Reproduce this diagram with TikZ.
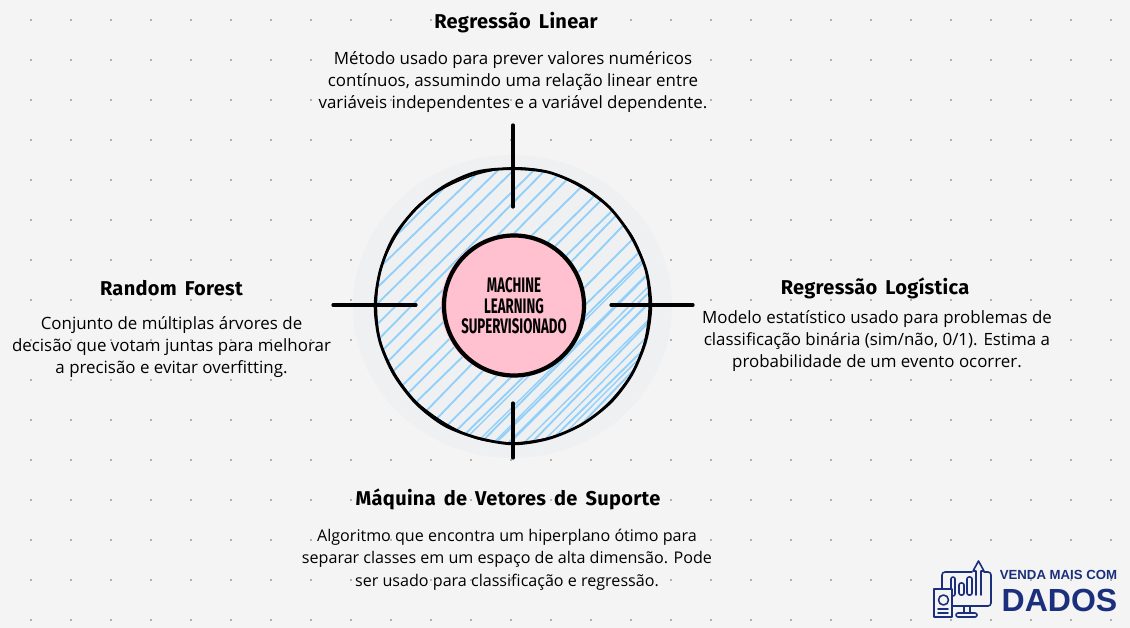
\documentclass[tikz,border=0pt]{standalone}
\usepackage{fontspec}
\usetikzlibrary{calc}
\setmainfont{Lato}
\newfontfamily\titlefont[LetterSpace=1.5,WordSpace=1.6]{Fira Sans}
\newfontfamily\bodyfont{Open Sans}
\newfontfamily\hubfont[FakeStretch=0.63]{Fira Sans}
\newfontfamily\logofont{Liberation Sans}
\definecolor{paper}{HTML}{F4F4F4}
\definecolor{gridgray}{HTML}{707070}
\definecolor{halo}{HTML}{EEF0F2}
\definecolor{hatch}{HTML}{90CFFA}
\definecolor{hubpink}{HTML}{FFC0D0}
\definecolor{navy}{HTML}{1C2F7C}
\tikzset{
	sketch/.style={draw=black, line width=2.8pt, line cap=round, line join=round},
	spoke/.style={draw=black, line width=3.2pt, line cap=round},
	heading/.style={font=\titlefont\bfseries\fontsize{20}{22}\selectfont, text=black, inner sep=0pt},
	blurb/.style={font=\bodyfont\fontsize{16.9}{22}\selectfont, text=black, align=center, inner sep=0pt},
	logoline/.style={draw=navy, line width=1.6pt, line join=round, line cap=round},
}
\begin{document}
\begin{tikzpicture}[x=1pt,y=-1pt]

	\pgfmathsetseed{7}
	\useasboundingbox (0,0) rectangle (1130,628);
	\fill[paper] (0,0) rectangle (1130,628);

	% dot grid
	\foreach \i in {0,...,27}
		\foreach \j in {0,...,15}
			\fill[gridgray] (31+40*\i,20+40*\j) circle (0.9);

	\coordinate (C) at (513,305.5);

	% rings
	\fill[halo] (512.5,306.5) ellipse (159.5 and 151.5);
	\begin{scope}
		\clip (C) circle (137);
		\foreach \k in {-22,...,22} {
			\pgfmathsetmacro{\ja}{\k*8.5+rand*3.5}
			\pgfmathsetmacro{\jb}{\k*8.5+rand*3.5}
			\draw[hatch, line width=1.8pt] ($(C)+(-160+\ja,160+\ja)$) -- ($(C)+(160+\jb,-160+\jb)$);
		}
		% denser towards the lower right
		\foreach \k in {6,...,18} {
			\pgfmathsetmacro{\ja}{\k*7.5+rand*3}
			\pgfmathsetmacro{\jb}{\k*7.5+rand*3}
			\draw[hatch, line width=1.3pt] ($(C)+(-160+\ja,160+\ja)$) -- ($(C)+(160+\jb,-160+\jb)$);
		}
	\end{scope}
	\draw[sketch] plot[smooth cycle, samples=24, domain=0:345] ({513+(137.5+rand*1)*cos(\x)},{305.5+(137.5+rand*1)*sin(\x)});
	\draw[sketch, line width=1.5pt] plot[smooth cycle, samples=24, domain=0:345] ({513+(137+rand*1.2)*cos(\x)},{305.5+(137+rand*1.2)*sin(\x)});
	\fill[hubpink] (513,305.5) circle (72);
	\draw[sketch, line width=4.2pt] (514,305.5) circle (70);

	% spokes
	\coordinate (Na) at (513,125);
	\coordinate (Nb) at (513,207);
	\coordinate (Sa) at (513,403);
	\coordinate (Sb) at (513,458);
	\coordinate (Wa) at (333,305);
	\coordinate (Wb) at (416,305);
	\coordinate (Ea) at (611,305);
	\coordinate (Eb) at (693,305);
	\draw[spoke] (Na) -- (Nb);
	\draw[spoke] (Sa) -- (Sb);
	\draw[spoke] (Wa) -- (Wb);
	\draw[spoke] (Ea) -- (Eb);

	\node[font=\hubfont\bfseries\fontsize{21}{20.5}\selectfont, align=center, inner sep=0pt] (hub) at (514,306) {MACHINE\\LEARNING\\SUPERVISIONADO};

	% top
	\node[heading] (linT) at (516,22.5) {Regressão Linear};
	\node[blurb] (linB) at (513,82.5) {Método usado para prever valores numéricos\\contínuos, assumindo uma relação linear entre\\variáveis independentes e a variável dependente.};

	% right
	\node[heading] (logT) at (875,288.5) {Regressão Logística};
	\node[blurb] (logB) at (877,341.5) {Modelo estatístico usado para problemas de\\classificação binária (sim/não, 0/1). Estima a\\probabilidade de um evento ocorrer.};

	% left
	\node[heading] (rfT) at (171.5,288.5) {Random Forest};
	\node[blurb] (rfB) at (171.5,347) {Conjunto de múltiplas árvores de\\decisão que votam juntas para melhorar\\a precisão e evitar overfitting.};

	% bottom
	\node[heading] (svmT) at (508,499.5) {Máquina de Vetores de Suporte};
	\node[blurb, font=\bodyfont\fontsize{16.1}{22.5}\selectfont] (svmB) at (507,559.5) {Algoritmo que encontra um hiperplano ótimo para\\separar classes em um espaço de alta dimensão. Pode\\ser usado para classificação e regressão.};

	% logo
	\begin{scope}
		\draw[logoline, rounded corners=3pt] (972,572) -- (942,572) -- (942,606) -- (991,606) -- (991,572) -- (984,572);
		\draw[logoline] (964,606) -- (964,613);
		\draw[logoline] (970,606) -- (970,613);
		\draw[logoline, rounded corners=2pt] (956,613) rectangle (977,617);
		\draw[logoline, rounded corners=2pt] (951,577) rectangle (955,596);
		\draw[logoline, rounded corners=2pt] (959,583) rectangle (964,595);
		\draw[logoline, rounded corners=2pt] (967,577) rectangle (972,595);
		\draw[logoline] (976,595) -- (976,571) -- (973,571) -- (978.5,561) -- (984,571) -- (981,571) -- (981,595);
		\fill[paper] (934,589) rectangle (952,617);
		\draw[logoline] (934,589) rectangle (952,617);
		\draw[logoline] (943.5,600) circle (5);
		\draw[logoline] (938,609) -- (948,609);
		\draw[logoline] (938,613) -- (948,613);
	\end{scope}
	\node[font=\logofont\bfseries\fontsize{13.2}{16}\selectfont, text=navy, inner sep=0pt] (logoA) at (1058.5,575) {VENDA MAIS COM};
	\node[font=\logofont\bfseries\fontsize{32}{33}\selectfont, text=navy, inner sep=0pt] (logoB) at (1059.5,600) {DADOS};

\end{tikzpicture}
\end{document}
